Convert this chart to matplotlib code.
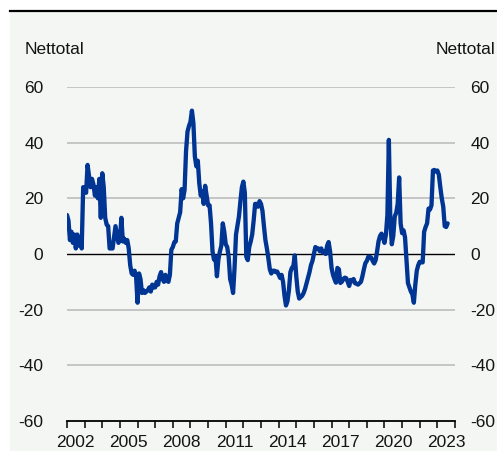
import matplotlib
matplotlib.use("Agg")
import matplotlib.pyplot as plt
from matplotlib.patches import Rectangle
from matplotlib.lines import Line2D
import numpy as np

plt.rcParams['font.family'] = ['Liberation Sans', 'DejaVu Sans']

# Monthly net balance, January 2002 onwards
start_year = 2002
values_by_year = {
    2002: [14, 12, 5, 8, 4, 7, 2, 7, 3, 6, 2, 24],
    2003: [24, 22, 32, 28, 24, 27, 25, 21, 24, 20, 27, 13],
    2004: [29, 24, 13, 10.5, 10, 2, 2, 2, 6, 10, 7, 4],
    2005: [5, 13, 4.5, 5.5, 4, 5, 2, -4, -7, -7.5, -6, -8],
    2006: [-17.5, -7, -9, -14, -13, -14, -13.5, -13, -12, -13.5, -11, -12],
    2007: [-12, -10, -11, -8, -6.5, -9, -10, -7.5, -9.5, -10, -7.5, 1.5],
    2008: [2.5, 4.2, 4.5, 11, 13, 15, 23.3, 20, 23, 37, 44, 46],
    2009: [47.5, 51.5, 47, 35, 31.5, 33.5, 25.4, 21, 22.5, 18, 24.5, 21],
    2010: [17.5, 17.5, 11, 1, -2, -1, -8, -2, 0.8, 3, 11, 8],
    2011: [3.5, 2.5, -1, -9, -11, -14, -5, 7, 10.3, 13.5, 19, 24],
    2012: [26, 22, -1, -2.2, 2.5, 4.5, 7, 12, 18, 18, 17, 19],
    2013: [18, 15.5, 10, 5, 2, -1.5, -5.5, -7, -6, -6, -6.5, -6.3],
    2014: [-7.4, -8.6, -7.5, -10, -15, -18.5, -17, -13, -6.5, -5, -4.4, -0.5],
    2015: [-8, -13.5, -16, -15.5, -15, -14, -12.5, -10.5, -8.5, -6.5, -4, -2.5],
    2016: [0, 2.5, 2, 2, 1, 2, 0.5, 1, 0, 3, 4.3, 1],
    2017: [-5, -7.5, -9, -10.3, -5, -5.5, -10.4, -10, -9, -8.5, -8.7, -10],
    2018: [-11.5, -9.3, -9.8, -9, -10.5, -10.7, -11, -10.5, -10, -8, -5.5, -3.3],
    2019: [-2.5, -1, -1, -1.3, -2.5, -3.4, -2.2, 1, 4.6, 6.5, 7.3, 6],
    2020: [4, 7, 14, 41, 12, 3.5, 6.5, 13.5, 14.8, 18, 27.5, 11],
    2021: [7.5, 8.5, 6, -2.5, -10.5, -12, -13.5, -14.5, -17.5, -11, -6, -4],
    2022: [-2.8, -3, -3, 8, 9.7, 11, 16.3, 16, 17.5, 30, 30.2, 29.6],
    2023: [30, 28.5, 24, 20, 17, 10, 9.7, 11],
}

tick_labels = ["2002", "2005", "2008", "2011", "2014", "2017", "2020", "2023"]
y_ticks = [-60, -40, -20, 0, 20, 40, 60]
axis_title = "Nettotal"

values = np.concatenate([np.asarray(v, dtype=float) for v in values_by_year.values()])
x = start_year + np.arange(len(values)) / 12.0

W, H = 497, 453
FS = 12.5
TXT = "#141414"
fig = plt.figure(figsize=(W / 100, H / 100), dpi=100)
fig.patch.set_facecolor("white")

# light panel behind the chart and the heavy rule on top
fig.patches.append(Rectangle((10 / W, 2 / H), (W - 10) / W, (H - 14) / H,
                             transform=fig.transFigure, facecolor="#f4f6f4",
                             edgecolor="none", zorder=-10))
fig.lines.append(Line2D([10 / W, 1], [(H - 11) / H] * 2, transform=fig.transFigure,
                        color="black", linewidth=1.6))

left, right = 67 / W, 455 / W
bottom, top = (H - 421) / H, (H - 87) / H
ax = fig.add_axes([left, bottom, right - left, top - bottom])
ax.set_facecolor("none")

ax.set_xlim(2002, 2024)
ax.set_ylim(-60, 60)

for yv in y_ticks:
    if yv == -60:
        continue
    if yv == 0:
        ax.axhline(0, color="black", linewidth=1.0, zorder=2)
    else:
        ax.axhline(yv, color="#bdbdbd", linewidth=1.2, zorder=1)

ax.plot(x, values, color="#003594", linewidth=3.1, solid_joinstyle="round",
        solid_capstyle="round", zorder=3)

for side in ("top", "right", "left"):
    ax.spines[side].set_visible(False)
ax.spines["bottom"].set_linewidth(1.3)

# year ticks on boundaries, labels centred within the year
ax.set_xticks(np.arange(2002, 2025))
ax.set_xticklabels([])
ax.tick_params(axis="x", which="major", length=5, width=1.1, direction="out")
label_pos = [int(t) + 0.5 for t in tick_labels]
ax.set_xticks(label_pos, minor=True)
ax.set_xticklabels(tick_labels, minor=True, fontsize=FS, color=TXT)
ax.tick_params(axis="x", which="minor", length=0, pad=10)

ax.set_yticks(y_ticks)
ax.set_yticklabels([str(v) for v in y_ticks], fontsize=FS, color=TXT)
ax.tick_params(axis="y", length=0, pad=17)

ax2 = ax.twinx()
ax2.set_ylim(-60, 60)
ax2.set_yticks(y_ticks)
ax2.set_yticklabels([str(v) for v in y_ticks], fontsize=FS, color=TXT)
ax2.tick_params(axis="y", length=0, pad=11)
for side in ("top", "right", "left", "bottom"):
    ax2.spines[side].set_visible(False)

fig.text(25 / W, (H - 50) / H, axis_title, fontsize=FS, color=TXT,
         ha="left", va="center")
fig.text(495 / W, (H - 50) / H, axis_title, fontsize=FS, color=TXT,
         ha="right", va="center")

fig.savefig("out.png", dpi=100)
